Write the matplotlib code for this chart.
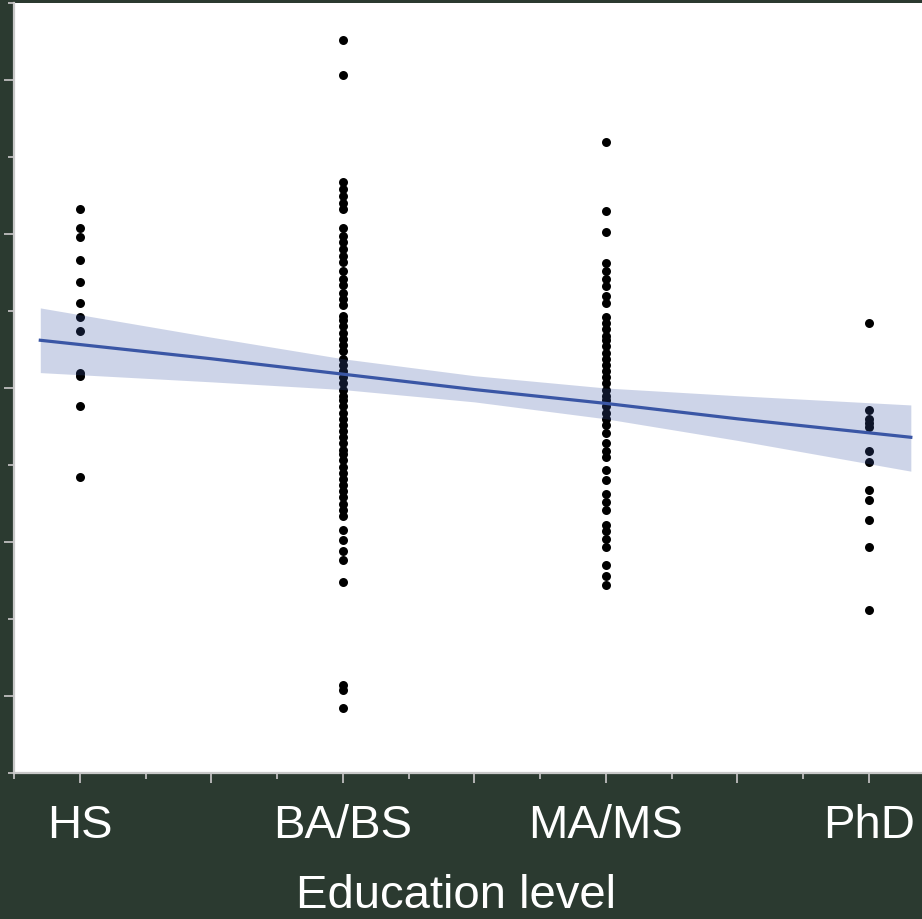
import numpy as np
import matplotlib
matplotlib.use("Agg")
import matplotlib.pyplot as plt
from matplotlib.ticker import MultipleLocator, FixedLocator, FixedFormatter

plt.rcParams["font.family"] = ["Liberation Sans", "DejaVu Sans"]

bg = "#2b3a30"
blue = "#3a56a5"

levels = ["HS", "BA/BS", "MA/MS", "PhD"]

hs = [4.16, 4.04, 3.98, 3.83, 3.69, 3.55, 3.46, 3.37, 3.10, 3.08, 2.88, 2.42]
ba_bs = [5.26, 5.03, 4.34, 4.29, 4.25, 4.20, 4.16, 4.04, 3.99, 3.95, 3.90, 3.86,
         3.82, 3.76, 3.71, 3.67, 3.62, 3.58, 3.54, 3.47, 3.44, 3.40, 3.36, 3.32,
         3.28, 3.24, 3.19, 3.15, 3.11, 3.07, 3.03, 2.99, 2.95, 2.92, 2.88, 2.84,
         2.80, 2.76, 2.72, 2.68, 2.64, 2.60, 2.57, 2.53, 2.49, 2.45, 2.41, 2.37,
         2.33, 2.29, 2.25, 2.21, 2.17, 2.08, 2.01, 1.94, 1.88, 1.74, 1.07, 1.04,
         0.92]
ma_ms = [4.60, 4.15, 4.01, 3.81, 3.76, 3.71, 3.66, 3.60, 3.55, 3.46, 3.42, 3.38,
         3.34, 3.31, 3.27, 3.23, 3.19, 3.15, 3.11, 3.07, 3.03, 2.99, 2.95, 2.92,
         2.88, 2.84, 2.80, 2.76, 2.71, 2.64, 2.59, 2.55, 2.47, 2.40, 2.31, 2.26,
         2.21, 2.11, 2.07, 2.02, 1.97, 1.85, 1.78, 1.72]
phd = [3.42, 2.86, 2.80, 2.77, 2.75, 2.59, 2.52, 2.34, 2.27, 2.14, 1.97, 1.56]

# fitted trend and its confidence band
fit_x = [0.85, 1.5, 2.0, 2.5, 3.0, 3.5, 4.16]
fit_y = [3.31, 3.19, 3.09, 2.99, 2.90, 2.80, 2.68]
band_lo = [3.10, 3.04, 2.99, 2.91, 2.80, 2.66, 2.46]
band_hi = [3.52, 3.33, 3.19, 3.08, 3.00, 2.95, 2.89]

fig = plt.figure(figsize=(9.22, 9.20), dpi=100, facecolor=bg)
ax = fig.add_axes([14 / 922, 146 / 920, 920.5 / 922, 770 / 920])
ax.set_facecolor("white")

for i, vals in enumerate([hs, ba_bs, ma_ms, phd], start=1):
    ax.scatter(np.full(len(vals), i), vals, s=42, color="black",
               linewidths=0, zorder=2)

ax.fill_between(fit_x, band_lo, band_hi, color=blue, alpha=0.25,
                linewidth=0, zorder=3)
ax.plot(fit_x, fit_y, color=blue, lw=2.3, zorder=4)

ax.set_xlim(0.75, 4.25)
ax.set_ylim(0.5, 5.5)

# labels only on the four levels, unlabeled ticks at the half steps
ax.xaxis.set_major_locator(FixedLocator([1, 1.5, 2, 2.5, 3, 3.5, 4]))
ax.xaxis.set_major_formatter(
    FixedFormatter(["HS", "", "BA/BS", "", "MA/MS", "", "PhD"]))
ax.xaxis.set_minor_locator(MultipleLocator(0.25))
ax.yaxis.set_major_locator(MultipleLocator(1))
ax.yaxis.set_minor_locator(MultipleLocator(0.5))

tick_col = "#b4b4b4"
ax.tick_params(which="major", length=7.5, width=1.4, color=tick_col,
               labelsize=34, labelcolor="white", pad=14)
ax.tick_params(which="minor", length=4.3, width=1.4, color=tick_col)
ax.tick_params(axis="y", labelleft=False)

for side in ["left", "bottom"]:
    ax.spines[side].set_color("#c8c8c8")
    ax.spines[side].set_linewidth(1.6)
for side in ["top", "right"]:
    ax.spines[side].set_visible(False)

ax.set_xlabel("Education level", fontsize=34, color="white", labelpad=19)
ax.xaxis.label.set_x((456 - 14) / 920.5)

fig.savefig("out.png", dpi=100, facecolor=bg)
